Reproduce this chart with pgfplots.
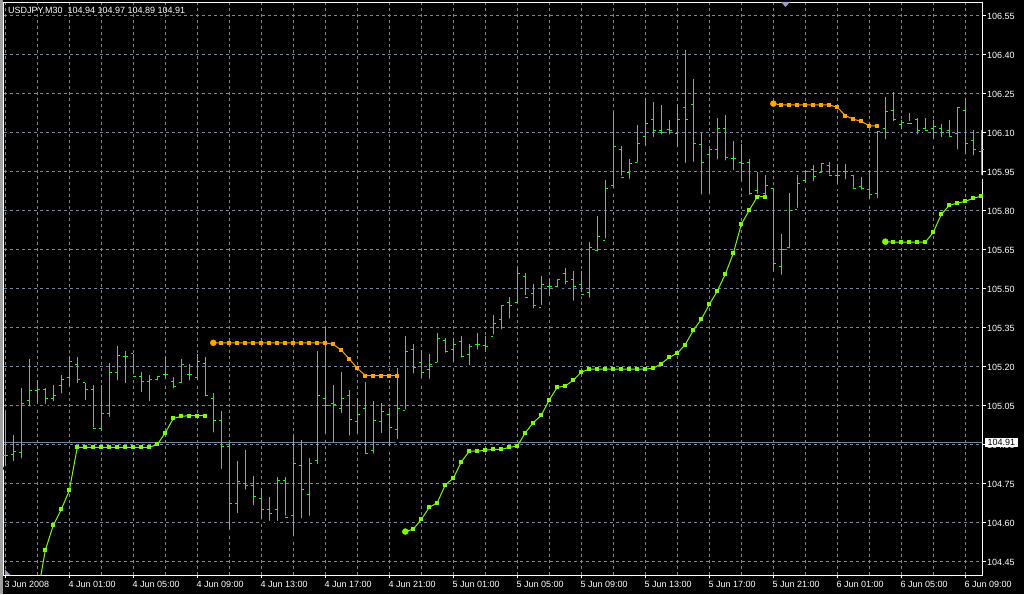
\documentclass[border=0pt]{standalone}
\usepackage{pgfplots}
\pgfplotsset{compat=1.18}
\usepackage{pgfplotstable}
\usetikzlibrary{calc,backgrounds}
\usepackage{fontspec}
\setmainfont{Liberation Sans}
\definecolor{gridcol}{RGB}{119,136,153}
\definecolor{barcol}{RGB}{30,245,30}
\definecolor{lgreen}{RGB}{124,252,0}
\definecolor{lorange}{RGB}{255,165,0}
\pgfdeclareplotmark{otick}{\pgfpathmoveto{\pgfqpoint{-2.6pt}{0pt}}\pgfpathlineto{\pgfqpoint{0pt}{0pt}}\pgfusepathqstroke}
\pgfdeclareplotmark{ctick}{\pgfpathmoveto{\pgfqpoint{0pt}{0pt}}\pgfpathlineto{\pgfqpoint{2.6pt}{0pt}}\pgfusepathqstroke}
\newcommand{\mtfont}{\fontsize{9}{10}\selectfont}

\pgfplotstableread{
i o h l c
0 104.86 105.03 104.81 104.86
1 104.865 104.94 104.83 104.875
2 104.87 105.12 104.84 105.06
3 105.07 105.23 105.04 105.11
4 105.11 105.15 105.05 105.115
5 105.115 105.12 105.05 105.08
6 105.08 105.13 105.06 105.09
7 105.13 105.17 105.09 105.15
8 105.16 105.24 105.115 105.22
9 105.21 105.24 105.13 105.15
10 105.14 105.14 105.065 105.115
11 105.115 105.13 104.96 104.965
12 104.965 105.13 104.945 105.02
13 105.02 105.215 105.00 105.18
14 105.18 105.28 105.14 105.245
15 105.24 105.26 105.13 105.24
16 105.25 105.25 105.165 105.165
17 105.165 105.18 105.095 105.145
18 105.145 105.17 105.06 105.15
19 105.15 105.165 105.14 105.165
20 105.17 105.24 105.145 105.17
21 105.145 105.16 105.11 105.125
22 105.14 105.23 105.13 105.21
23 105.17 105.21 105.14 105.17
24 105.16 105.25 105.14 105.22
25 105.215 105.24 105.08 105.09
26 105.08 105.10 104.94 104.995
27 104.995 105.03 104.80 104.895
28 104.895 104.91 104.565 104.675
29 104.675 104.84 104.63 104.76
30 104.75 104.88 104.72 104.745
31 104.745 104.78 104.66 104.70
32 104.695 104.735 104.605 104.65
33 104.65 104.70 104.60 104.635
34 104.65 104.775 104.60 104.765
35 104.765 104.775 104.62 104.62
36 104.63 104.94 104.54 104.83
37 104.82 104.92 104.61 104.73
38 104.71 104.85 104.62 104.83
39 104.842 105.261 104.819 105.091
40 105.080 105.353 104.932 105.050
41 105.060 105.131 104.900 105.054
42 105.042 105.181 105.015 105.080
43 105.091 105.112 104.928 104.999
44 104.990 105.081 104.932 105.019
45 105.041 105.142 104.859 104.868
46 104.878 105.069 104.859 104.995
47 104.991 105.062 104.938 105.030
48 105.019 105.042 104.886 104.968
49 104.960 105.197 104.915 105.041
50 105.031 105.318 105.028 105.259
51 105.268 105.287 105.167 105.199
52 105.218 105.264 105.147 105.180
53 105.191 105.249 105.147 105.210
54 105.218 105.330 105.209 105.310
55 105.300 105.312 105.247 105.260
56 105.268 105.312 105.209 105.287
57 105.299 105.318 105.228 105.241
58 105.249 105.288 105.199 105.280
59 105.287 105.331 105.259 105.287
60 105.282 105.319 105.249 105.278
61 105.317 105.400 105.317 105.368
62 105.381 105.438 105.336 105.437
63 105.449 105.469 105.378 105.437
64 105.449 105.586 105.435 105.560
65 105.549 105.563 105.468 105.468
66 105.481 105.519 105.417 105.437
67 105.430 105.550 105.430 105.519
68 105.509 105.537 105.464 105.509
69 105.509 105.538 105.499 105.537
70 105.560 105.581 105.509 105.530
71 105.537 105.569 105.447 105.509
72 105.518 105.569 105.480 105.480
73 105.487 105.681 105.458 105.660
74 105.649 105.781 105.636 105.700
75 105.686 105.919 105.686 105.887
76 105.897 106.182 105.878 106.049
77 106.037 106.050 105.928 105.928
78 105.949 106.000 105.916 105.981
79 105.987 106.132 105.978 106.058
80 106.088 106.233 106.041 106.137
81 106.150 106.220 106.077 106.109
82 106.111 106.208 106.086 106.103
83 106.114 106.150 106.086 106.111
84 106.099 106.210 106.037 106.150
85 106.199 106.419 105.977 106.150
86 106.208 106.308 105.981 106.058
87 106.056 106.099 105.855 105.987
88 106.019 106.050 105.855 106.035
89 106.035 106.159 105.990 106.118
90 106.118 106.169 105.986 106.006
91 106.000 106.069 105.949 106.000
92 105.987 106.058 105.904 105.981
93 105.987 106.000 105.854 105.868
94 105.878 105.949 105.858 105.858
95 105.868 105.938 105.849 105.897
96 105.887 105.887 105.558 105.599
97 105.586 105.711 105.547 105.650
98 105.660 105.868 105.650 105.801
99 105.806 105.938 105.804 105.906
100 105.919 105.958 105.900 105.950
101 105.958 105.977 105.906 105.932
102 105.947 105.983 105.938 105.981
103 105.974 105.987 105.932 105.935
104 105.935 105.981 105.893 105.935
105 105.951 105.981 105.913 105.951
106 105.935 105.938 105.881 105.885
107 105.893 105.932 105.874 105.885
108 105.881 105.954 105.836 105.865
109 105.868 106.109 105.842 106.105
110 106.118 106.240 106.067 106.182
111 106.188 106.256 106.137 106.150
112 106.131 106.150 106.105 106.142
113 106.137 106.178 106.137 106.137
114 106.150 106.157 106.086 106.109
115 106.118 106.159 106.105 106.111
116 106.118 106.150 106.067 106.124
117 106.118 106.133 106.076 106.101
118 106.111 106.150 106.080 106.086
119 106.099 106.201 106.028 106.197
120 106.188 106.233 106.009 106.058
121 106.070 106.111 106.006 106.035
122 106.028 106.111 105.930 106.035
}\bars

\pgfplotstableread{
i p
4 104.32
5 104.495
6 104.591
7 104.652
8 104.725
9 104.891
10 104.891
11 104.891
12 104.891
13 104.891
14 104.891
15 104.891
16 104.891
17 104.891
18 104.891
19 104.902
20 104.947
21 105.002
22 105.010
23 105.013
24 105.013
25 105.013
}\gA

\pgfplotstableread{
i p
50 104.567
51 104.576
52 104.614
53 104.660
54 104.678
55 104.747
56 104.772
57 104.835
58 104.876
59 104.876
60 104.880
61 104.883
62 104.883
63 104.891
64 104.896
65 104.947
66 104.986
67 105.014
68 105.074
69 105.122
70 105.127
71 105.149
72 105.180
73 105.192
74 105.192
75 105.192
76 105.192
77 105.192
78 105.192
79 105.192
80 105.192
81 105.195
82 105.213
83 105.237
84 105.253
85 105.286
86 105.341
87 105.383
88 105.441
89 105.492
90 105.557
91 105.637
92 105.749
93 105.803
94 105.855
95 105.855
}\gB

\pgfplotstableread{
i p
110 105.682
111 105.680
112 105.680
113 105.680
114 105.680
115 105.680
116 105.718
117 105.787
118 105.822
119 105.830
120 105.837
121 105.849
122 105.857
}\gC

\pgfplotstableread{
i p
26 105.293
27 105.293
28 105.293
29 105.293
30 105.293
31 105.293
32 105.293
33 105.293
34 105.293
35 105.293
36 105.293
37 105.293
38 105.293
39 105.293
40 105.293
41 105.287
42 105.265
43 105.231
44 105.195
45 105.167
46 105.167
47 105.167
48 105.167
49 105.167
}\oA

\pgfplotstableread{
i p
96 106.213
97 106.208
98 106.208
99 106.208
100 106.208
101 106.208
102 106.208
103 106.208
104 106.199
105 106.167
106 106.153
107 106.145
108 106.127
109 106.127
}\oB

\begin{document}
\begin{tikzpicture}[x=1pt,y=1pt]
\begin{axis}[
  scale only axis, width=978.5pt, height=573pt,
  xmin=-0.1625, xmax=122.15, ymin=104.3988, ymax=106.6027,
  axis line style={white, line width=1pt},
  xtick={0,8,...,120},
  xticklabels={3 Jun 2008, 4 Jun 01:00, 4 Jun 05:00, 4 Jun 09:00, 4 Jun 13:00, 4 Jun 17:00, 4 Jun 21:00, 5 Jun 01:00, 5 Jun 05:00, 5 Jun 09:00, 5 Jun 13:00, 5 Jun 17:00, 5 Jun 21:00, 6 Jun 01:00, 6 Jun 05:00, 6 Jun 09:00},
  minor xtick={4,12,...,116},
  ytick={104.45,104.60,104.75,104.90,105.05,105.20,105.35,105.50,105.65,105.80,105.95,106.10,106.25,106.40,106.55},
  yticklabels={104.45,104.60,104.75,104.90,105.05,105.20,105.35,105.50,105.65,105.80,105.95,106.10,106.25,106.40,106.55},
  xtick pos=left, ytick pos=right,
  tick align=outside,
  major tick length=3pt, minor tick length=0pt,
  tick style={white, line width=1pt},
  grid=both,
  major grid style={draw=gridcol, line width=1pt, dash pattern=on 3pt off 3pt},
  minor grid style={draw=gridcol, line width=1pt, dash pattern=on 3pt off 3pt},
  xticklabel style={anchor=north west, inner sep=0pt, xshift=-0.8pt, yshift=-2.5pt, text=white, font=\mtfont},
  yticklabel style={anchor=west, inner sep=0pt, xshift=1.5pt, text=white, font=\mtfont},
  clip=true,
]
\coordinate (SW) at (rel axis cs:0,0);
\coordinate (BID) at (axis cs:122.15,104.91);
% bid line
\addplot[gridcol, line width=1pt, forget plot] coordinates {(-0.16,104.91) (122.15,104.91)};
% OHLC bars
\addplot[only marks, mark=none, forget plot,
  error bars/.cd, y dir=plus, y explicit, error mark=none,
  error bar style={draw=barcol, line width=1pt}]
  table[x=i, y=l, y error expr=\thisrow{h}-\thisrow{l}] {\bars};
\addplot[only marks, mark=otick, barcol, mark options={line width=1pt}] table[x=i, y=o] {\bars};
\addplot[only marks, mark=ctick, barcol, mark options={line width=1pt}] table[x=i, y=c] {\bars};
% green lines
\addplot[lgreen, line width=1pt, mark=square*, mark size=1.5pt] table[x=i, y=p] {\gA};
\addplot[lgreen, line width=1pt, mark=square*, mark size=1.5pt] table[x=i, y=p] {\gB};
\addplot[lgreen, line width=1pt, mark=square*, mark size=1.5pt] table[x=i, y=p] {\gC};
\addplot[lgreen, only marks, mark=*, mark size=3pt] coordinates {(50,104.567) (110,105.682)};
% orange lines
\addplot[lorange, line width=1pt, mark=square*, mark size=1.5pt] table[x=i, y=p] {\oA};
\addplot[lorange, line width=1pt, mark=square*, mark size=1.5pt] table[x=i, y=p] {\oB};
\addplot[lorange, only marks, mark=*, mark size=3pt] coordinates {(26,105.293) (96,106.213)};
% header
\node[anchor=north west, inner sep=0pt, text=white, font=\mtfont] at (rel axis cs:0,1) [xshift=4pt, yshift=-4.5pt] {USDJPY,M30\ \ 104.94 104.97 104.89 104.91};
\end{axis}
\begin{scope}[on background layer]
\fill[black] ($(SW)+(-4,-18.7)$) rectangle ++(1024,594);
\fill[gray!75] ($(SW)+(-4,-18.7)$) rectangle ++(3.3,594);
\end{scope}
% bid price label
\node[anchor=west, fill=white, text=black, inner xsep=2.5pt, inner ysep=1.5pt, font=\mtfont] at ($(BID)+(2.5,0)$) {104.91};
% chart shift markers
\fill[gray!70!blue!60] ($(SW)+(777,573.3)$) -- ++(9,0) -- ++(-4.5,-5) -- cycle;
\fill[gray!70!blue!60] ($(SW)+(1,0.3)$) -- ++(0,5.5) -- ++(5.5,-5.5) -- cycle;
\pgfresetboundingbox
\path[use as bounding box] ($(SW)+(-4,-18.7)$) rectangle ++(1024,594);
\end{tikzpicture}
\end{document}
